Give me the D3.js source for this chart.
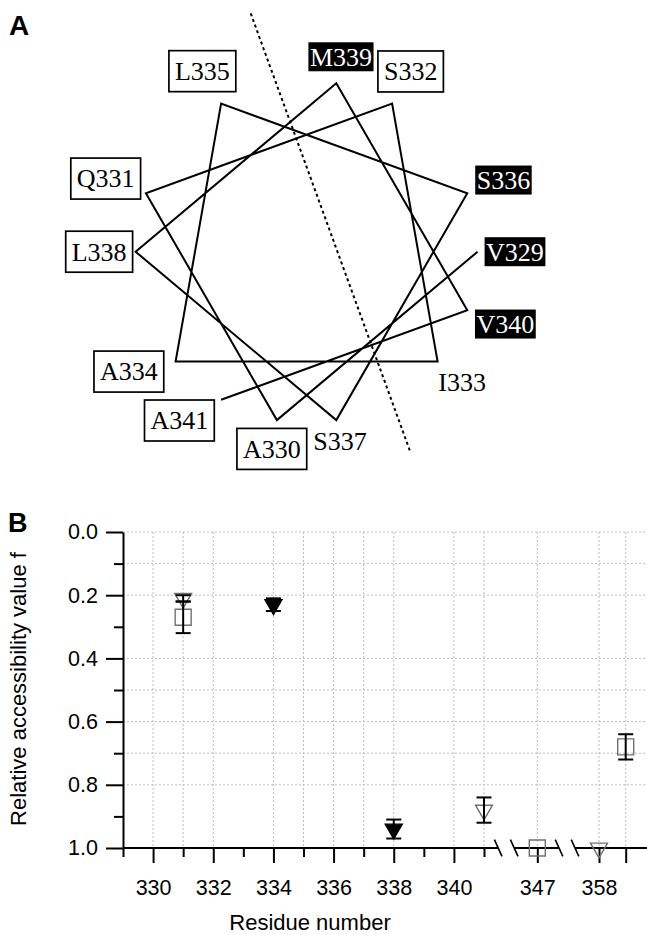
<!DOCTYPE html>
<html>
<head>
<meta charset="utf-8">
<script src="https://cdn.jsdelivr.net/npm/d3@7"></script>
<style>
  body { margin: 0; background: #fff; }
  svg { display: block; }
</style>
</head>
<body>
<svg id="fig" width="647" height="935"></svg>
<script>
// panel A: helical wheel, residues in sequence order
const residues = ['V329', 'A330', 'Q331', 'S332', 'I333', 'A334', 'L335',
  'S336', 'S337', 'L338', 'M339', 'V340', 'A341'];
const labelStyles = ['black', 'box', 'box', 'box', 'plain', 'box', 'box',
  'black', 'plain', 'box', 'black', 'black', 'box'];
const residueNumbers = residues.map(r => +r.slice(1));

// panel B: x axis
const majorTicks = [330, 332, 334, 336, 338, 340, 347, 358, 359];
const majorTickLabels = ['330', '332', '334', '336', '338', '340', '347', '358', ''];
const minorTicks = [329, 331, 333, 335, 337, 339, 341];
const axisBreaks = [343.5, 352.3];
const gridX = [330, 331, 332, 334, 335, 336, 337, 338, 340, 341, 347, 358, 359];
// panel B: y axis
const yMajor = [0, 0.2, 0.4, 0.6, 0.8, 1.0];
const yMinor = [0.1, 0.3, 0.5, 0.7, 0.9];
const gridY = [0, 0.1, 0.2, 0.4, 0.5, 0.6, 0.7, 0.8];

// panel B: series (residue, f, error)
const squareRes = [331, 347, 359];
const squareF = [0.27, 1.0, 0.68];
const squareErr = [0.05, 0, 0.04];
const openTriRes = [331, 341, 358];
const openTriF = [0.21, 0.88, 1.0];
const openTriErr = [0.01, 0.04, 0];
const filledTriRes = [334, 338];
const filledTriF = [0.23, 0.94];
const filledTriErr = [0.02, 0.03];

const svg = d3.select('#fig');
const W = +svg.attr('width');

// ---------- panel A ----------
const wheel = { cx: 306.6, cy: 251.7, r: 171 };
const angle = d3.scaleLinear().domain([329, 341]).range([0, -1200]);
const toRad = deg => deg * Math.PI / 180;
const polar = (deg, r) => [wheel.cx + r * Math.cos(toRad(deg)), wheel.cy - r * Math.sin(toRad(deg))];
// crowded labels on the lower left are pushed round a little
const labelNudge = { A341: -7, A334: -6 };
const labelGap = { box: 3, black: 7, plain: 8 };

const gA = svg.append('g');

gA.append('text')
  .attr('x', 9).attr('y', 35)
  .attr('font-family', 'Liberation Sans, Arial, sans-serif')
  .attr('font-weight', 'bold').attr('font-size', 28)
  .text('A');

// hydrophobic face divider, perpendicular to the 20 deg direction
{
  const off = 29, a = toRad(20);
  const p0 = [wheel.cx + off * Math.cos(a), wheel.cy - off * Math.sin(a)];
  const dir = [Math.sin(a), Math.cos(a)];
  gA.append('line')
    .attr('x1', p0[0] - 243 * dir[0]).attr('y1', p0[1] - 243 * dir[1])
    .attr('x2', p0[0] + 223 * dir[0]).attr('y2', p0[1] + 223 * dir[1])
    .attr('stroke', '#000').attr('stroke-width', 2)
    .attr('stroke-dasharray', '3,3');
}

gA.append('path')
  .datum(residueNumbers)
  .attr('d', d3.line()
    .x(d => polar(angle(d), wheel.r)[0])
    .y(d => polar(angle(d), wheel.r)[1]))
  .attr('fill', 'none').attr('stroke', '#000').attr('stroke-width', 2)
  .attr('stroke-linejoin', 'miter');

const labels = gA.selectAll('g.lab')
  .data(residues.map((name, i) => ({ name, res: residueNumbers[i], style: labelStyles[i] })))
  .join('g').attr('class', 'lab');

labels.each(function (d) {
  const g = d3.select(this);
  const rect = g.append('rect');
  const t = g.append('text')
    .attr('font-family', 'Liberation Serif, Times New Roman, serif')
    .attr('font-size', 26)
    .attr('text-anchor', 'middle')
    .attr('fill', d.style === 'black' ? '#fff' : '#000')
    .text(d.name);
  const tw = t.node().getComputedTextLength();
  let w, h;
  if (d.style === 'box') { w = tw + 12; h = 41; }
  else if (d.style === 'black') { w = tw + 3; h = 29; }
  else { w = tw; h = 18; }
  const deg = angle(d.res) + (labelNudge[d.name] || 0);
  const a = toRad(deg);
  const ext = Math.abs(Math.cos(a)) * w / 2 + Math.abs(Math.sin(a)) * h / 2;
  const [lx, ly] = polar(deg, wheel.r + labelGap[d.style] + ext);
  t.attr('x', lx).attr('y', ly + 8.8);
  if (d.style === 'plain') rect.remove();
  else {
    rect.attr('x', lx - w / 2).attr('y', ly - h / 2)
      .attr('width', w).attr('height', h)
      .attr('fill', d.style === 'black' ? '#000' : '#fff')
      .attr('stroke', d.style === 'black' ? 'none' : '#000')
      .attr('stroke-width', 1.7);
  }
});

// ---------- panel B ----------
const x = d3.scaleLinear()
  .domain([329, 341, 347, 358, 359])
  .range([123, 484, 537.3, 599, 625.7]);
const y = d3.scaleLinear().domain([0, 1]).range([532, 848]);
const sans = 'Liberation Sans, Arial, sans-serif';

const gB = svg.append('g');

gB.append('text')
  .attr('x', 8).attr('y', 532)
  .attr('font-family', sans).attr('font-weight', 'bold').attr('font-size', 27)
  .text('B');

// grid
const grid = gB.append('g')
  .attr('stroke', '#bdbdbd').attr('stroke-width', 1).attr('stroke-dasharray', '2,2');
grid.selectAll('line.gx').data(gridX).join('line').attr('class', 'gx')
  .attr('x1', d => x(d)).attr('x2', d => x(d))
  .attr('y1', y(0)).attr('y2', y(1));
grid.selectAll('line.gy').data(gridY).join('line').attr('class', 'gy')
  .attr('x1', x(329)).attr('x2', W)
  .attr('y1', d => y(d)).attr('y2', d => y(d));

// y axis
gB.append('g').attr('transform', `translate(${x(329)},0)`)
  .call(d3.axisLeft(y).tickValues(yMajor).tickSize(17).tickSizeOuter(0)
    .tickPadding(8).tickFormat(d3.format('.1f')));
gB.append('g').attr('transform', `translate(${x(329)},0)`)
  .call(d3.axisLeft(y).tickValues(yMinor).tickSize(9).tickFormat(''))
  .call(g => g.select('.domain').remove());

// x axis
gB.append('g').attr('transform', `translate(0,${y(1)})`)
  .call(d3.axisBottom(x).tickValues(majorTicks).tickSize(15).tickPadding(17)
    .tickFormat((d, i) => majorTickLabels[i]))
  .call(g => g.select('.domain').remove());
gB.append('g').attr('transform', `translate(0,${y(1)})`)
  .call(d3.axisBottom(x).tickValues(minorTicks).tickSize(9).tickFormat(''))
  .call(g => g.select('.domain').remove());

// x axis line with breaks
const bx = axisBreaks.map(x);
const segs = [[x(329), bx[0] - 8], [bx[0] + 8, bx[1] - 8], [bx[1] + 8, W]];
gB.selectAll('line.xseg').data(segs).join('line').attr('class', 'xseg')
  .attr('x1', d => d[0]).attr('x2', d => d[1])
  .attr('y1', y(1)).attr('y2', y(1))
  .attr('stroke', '#000').attr('stroke-width', 2);
const slashes = bx.flatMap(c => [c - 8, c + 8]);
gB.selectAll('line.slash').data(slashes).join('line').attr('class', 'slash')
  .attr('x1', d => d - 3.8).attr('x2', d => d + 3.8)
  .attr('y1', y(1) - 8.3).attr('y2', y(1) + 8.3)
  .attr('stroke', '#000').attr('stroke-width', 1.6);

gB.selectAll('.tick line, .domain').attr('stroke', '#000').attr('stroke-width', 2);
gB.selectAll('.tick text').attr('font-family', sans).attr('font-size', 21.5).attr('fill', '#000');

// axis titles
gB.append('text')
  .attr('x', 310).attr('y', 930)
  .attr('text-anchor', 'middle')
  .attr('font-family', sans).attr('font-size', 22)
  .text('Residue number');
gB.append('text')
  .attr('transform', 'translate(26,689) rotate(-90)')
  .attr('text-anchor', 'middle')
  .attr('font-family', sans).attr('font-size', 22)
  .text('Relative accessibility value f');

// markers
const tri = d3.symbol().type(d3.symbolTriangle).size(125)();
const sq = d3.symbol().type(d3.symbolSquare).size(256)();
const grey = '#707070';

const series = [
  { res: squareRes, f: squareF, err: squareErr, path: sq, rot: 0, fill: 'none', stroke: grey },
  { res: openTriRes, f: openTriF, err: openTriErr, path: tri, rot: 180, fill: 'none', stroke: grey },
  { res: filledTriRes, f: filledTriF, err: filledTriErr, path: tri, rot: 180, fill: '#000', stroke: '#000' }
];

const marks = gB.append('g');
series.forEach(s => {
  const pts = s.res.map((r, i) => ({ r, f: s.f[i], e: s.err[i] }));
  marks.append('g').selectAll('path').data(pts).join('path')
    .attr('d', s.path)
    .attr('transform', d => `translate(${x(d.r)},${y(d.f)}) rotate(${s.rot})`)
    .attr('fill', s.fill).attr('stroke', s.stroke).attr('stroke-width', 1.4);
});
const bars = marks.append('g').attr('stroke', '#000').attr('stroke-width', 2);
series.forEach(s => {
  s.res.forEach((r, i) => {
    const e = s.err[i];
    if (!e) return;
    const cx = x(r), y0 = y(s.f[i] - e), y1 = y(s.f[i] + e);
    bars.append('line').attr('x1', cx).attr('x2', cx).attr('y1', y0).attr('y2', y1);
    [y0, y1].forEach(yy => bars.append('line')
      .attr('x1', cx - 7.5).attr('x2', cx + 7.5).attr('y1', yy).attr('y2', yy));
  });
});
</script>
</body>
</html>
